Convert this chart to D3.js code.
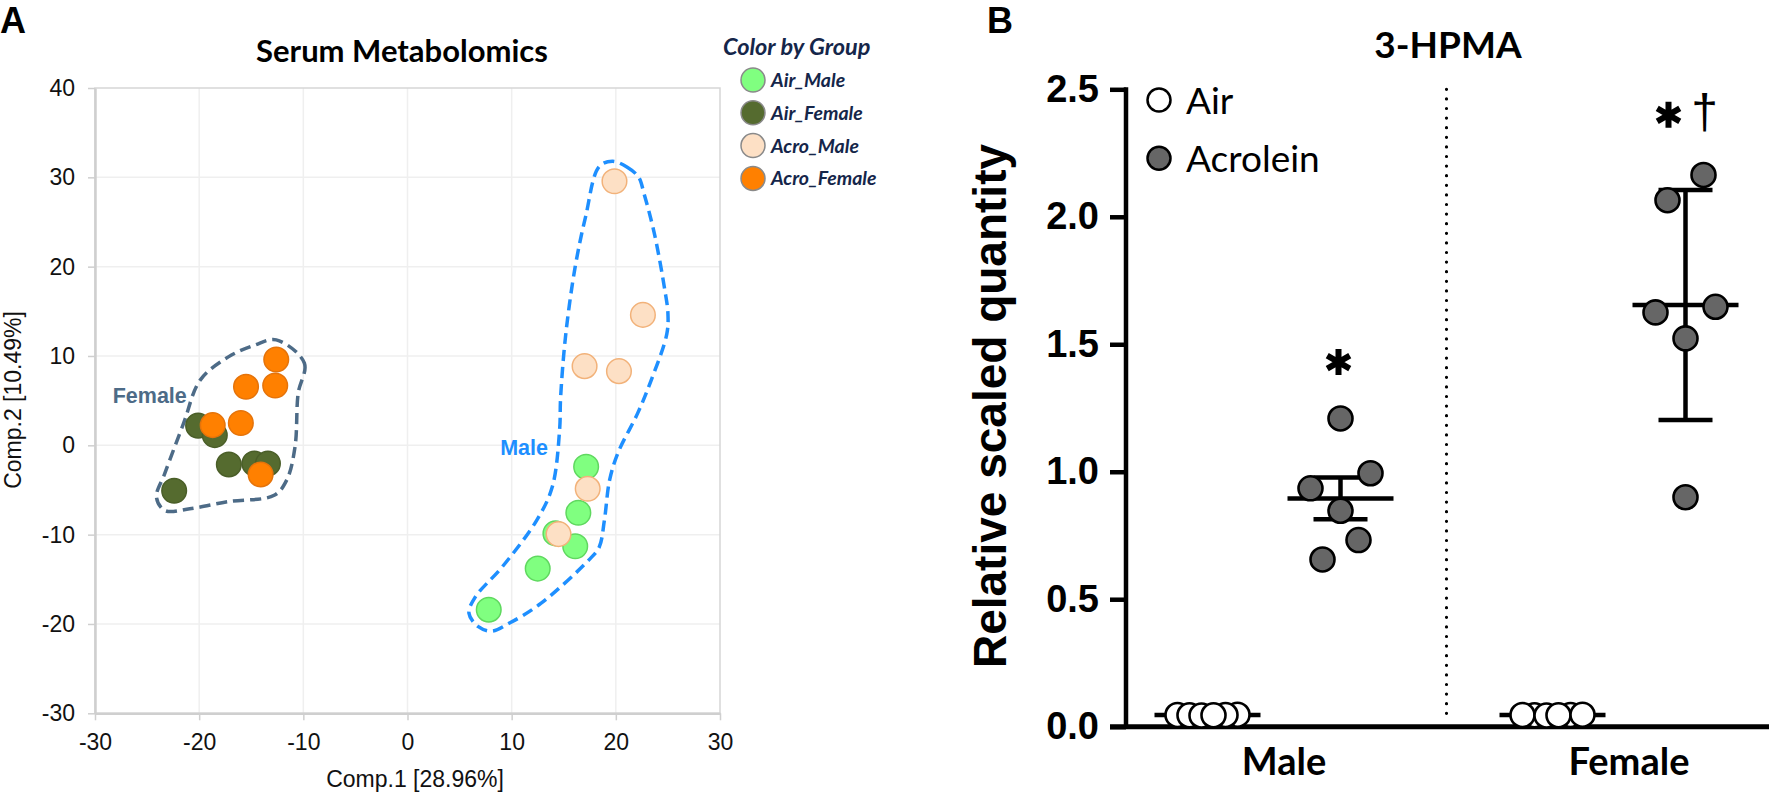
<!DOCTYPE html>
<html><head><meta charset="utf-8">
<script src="https://cdn.jsdelivr.net/npm/d3@7"></script>
<style>body{margin:0;background:#fff} svg{display:block}</style>
</head><body>
<svg id="chart" width="1769" height="794"></svg>
<script>
// ---------------- Panel A data (PCA scores) ----------------
const groupsA = ["Air_Male", "Air_Female", "Acro_Male", "Acro_Female"];
const groupColors = ["#80ff80", "#556b2f", "#fde0c5", "#ff8000"];
const groupStrokes = ["#5fd85f", "#4a5e28", "#f2b27a", "#e5730a"];
const airMaleX = [17.15, 16.4, 14.2, 16.1, 12.5, 7.8];
const airMaleY = [-2.4, -7.55, -9.86, -11.3, -13.8, -18.4];
const airFemaleX = [-20.1, -18.5, -17.15, -14.7, -13.4, -22.4];
const airFemaleY = [2.2, 1.14, -2.14, -2.03, -2.03, -5.09];
const acroMaleX = [19.87, 22.6, 17.0, 20.3, 17.3, 14.5];
const acroMaleY = [29.56, 14.6, 8.86, 8.3, -4.87, -9.94];
const acroFemaleX = [-12.6, -12.7, -15.5, -16.0, -18.7, -14.1];
const acroFemaleY = [9.6, 6.7, 6.55, 2.5, 2.26, -3.26];
const xTicksA = [-30, -20, -10, 0, 10, 20, 30];
const yTicksA = [-30, -20, -10, 0, 10, 20, 30, 40];
// hand-drawn outlines (in data units)
const femaleHullX = [-12.6, -9.9, -10.5, -10.8, -11.6, -12.8, -17.2, -20.9, -23.3, -24.1, -23.3, -21.5, -19.9, -17.2, -14.7];
const femaleHullY = [11.8, 9.2, 5.8, -0.2, -3.9, -5.6, -6.3, -7.1, -7.3, -5.8, -3.15, 2.45, 7.3, 9.9, 11.2];
const maleHullX = [19.67, 21.06, 22.2, 22.7, 23.7, 24.7, 25.0, 24.9, 23.4, 22.1, 20.2, 19.4, 18.9, 18.4, 17.4, 12.8, 9.8, 8.1, 6.8, 5.9, 6.5, 9.1, 12.4, 13.9, 14.6, 14.7, 15.2, 16.1, 17.1, 18.4];
const maleHullY = [31.8, 31.16, 30.0, 28.2, 23.7, 17.4, 14.8, 12.5, 7.3, 3.6, -0.86, -3.9, -8.4, -11.4, -12.85, -17.7, -19.9, -20.8, -20.3, -18.8, -17.0, -13.6, -8.4, -4.65, 1.7, 5.4, 12.5, 20.0, 25.6, 31.2];

// ---------------- Panel B data (3-HPMA) ----------------
const categoriesB = ["Male", "Female"];
const treatments = ["Air", "Acrolein"];
const maleAir = [0.046, 0.045, 0.047, 0.044, 0.046, 0.045];
const maleAcrolein = [1.209, 0.935, 0.994, 0.847, 0.732, 0.656];
const femaleAir = [0.045, 0.046, 0.044, 0.046, 0.045, 0.047];
const femaleAcrolein = [2.164, 2.065, 1.625, 1.647, 1.523, 0.900];
const errMale = [0.004, 0.082];     // Air, Acrolein
const errFemale = [0.004, 0.451];   // Air, Acrolein
const yTicksB = [0, 0.5, 1.0, 1.5, 2.0, 2.5];
const sigMarks = ["*", "*†"];

const svg = d3.select("#chart");
const fontA = "'Liberation Sans', Arial, sans-serif";
const fontC = "Lato, 'Open Sans', sans-serif";

// =============== PANEL A ===============
const xA = d3.scaleLinear().domain([-30, 30]).range([95, 720]);
const yA = d3.scaleLinear().domain([-30, 40]).range([713.3, 88]);
const gA = svg.append("g");

// grid
gA.append("g").selectAll("line.vg").data(xTicksA.slice(1, -1)).join("line")
  .attr("x1", d => xA(d)).attr("x2", d => xA(d)).attr("y1", yA(40)).attr("y2", yA(-30))
  .attr("stroke", "#efefef").attr("stroke-width", 1.5);
gA.append("g").selectAll("line.hg").data(yTicksA.slice(1, -1)).join("line")
  .attr("x1", xA(-30)).attr("x2", xA(30)).attr("y1", d => yA(d)).attr("y2", d => yA(d))
  .attr("stroke", "#efefef").attr("stroke-width", 1.5);
// frame
gA.append("rect").attr("x", xA(-30)).attr("y", yA(40)).attr("width", xA(30) - xA(-30)).attr("height", yA(-30) - yA(40))
  .attr("fill", "none").attr("stroke", "#d6d6d6").attr("stroke-width", 1.5);

const plainFmt = d => String(d);
const axA_x = gA.append("g").attr("transform", `translate(0,${yA(-30)})`)
  .call(d3.axisBottom(xA).tickValues(xTicksA).tickFormat(plainFmt).tickSize(7).tickPadding(13).tickSizeOuter(0));
const axA_y = gA.append("g").attr("transform", `translate(${xA(-30)},0)`)
  .call(d3.axisLeft(yA).tickValues(yTicksA).tickFormat(plainFmt).tickSize(7).tickPadding(13).tickSizeOuter(0));
[axA_x, axA_y].forEach(ax => {
  ax.select(".domain").attr("stroke", "#cfcfcf").attr("stroke-width", 2.5);
  ax.selectAll(".tick line").attr("stroke", "#cfcfcf").attr("stroke-width", 1.5);
  ax.selectAll(".tick text").attr("font-family", fontA).attr("font-size", 23).attr("fill", "#111");
});

// outlines
const hullLine = d3.line().x(d => xA(d[0])).y(d => yA(d[1])).curve(d3.curveCatmullRomClosed.alpha(0.5));
gA.append("path").attr("d", hullLine(femaleHullX.map((x, i) => [x, femaleHullY[i]])))
  .attr("fill", "none").attr("stroke", "#4d6b87").attr("stroke-width", 3.5).attr("stroke-dasharray", "11,6");
gA.append("path").attr("d", hullLine(maleHullX.map((x, i) => [x, maleHullY[i]])))
  .attr("fill", "none").attr("stroke", "#1e8fff").attr("stroke-width", 3.5).attr("stroke-dasharray", "11,6");

// points
const seriesA = [[airMaleX, airMaleY], [airFemaleX, airFemaleY], [acroMaleX, acroMaleY], [acroFemaleX, acroFemaleY]];
seriesA.forEach((s, gi) => {
  gA.append("g").selectAll("circle").data(s[0].map((x, i) => [x, s[1][i]])).join("circle")
    .attr("cx", d => xA(d[0])).attr("cy", d => yA(d[1])).attr("r", 12.3)
    .attr("fill", groupColors[gi]).attr("stroke", groupStrokes[gi]).attr("stroke-width", 1.5);
});

// annotations
gA.append("text").attr("x", xA(-28.3)).attr("y", yA(4.7)).text("Female")
  .attr("font-family", fontA).attr("font-weight", "bold").attr("font-size", 21.5).attr("fill", "#4d6b87");
gA.append("text").attr("x", xA(8.9)).attr("y", yA(-1.1)).text("Male")
  .attr("font-family", fontA).attr("font-weight", "bold").attr("font-size", 21.5).attr("fill", "#1e8fff");

// titles
gA.append("text").attr("x", 402).attr("y", 62).attr("text-anchor", "middle").text("Serum Metabolomics")
  .attr("font-family", fontC).attr("font-weight", "bold").attr("font-size", 31).attr("fill", "#000");
gA.append("text").attr("x", 415).attr("y", 787).attr("text-anchor", "middle").text("Comp.1 [28.96%]")
  .attr("font-family", fontA).attr("font-size", 23).attr("fill", "#111");
gA.append("text").attr("transform", "translate(21,400) rotate(-90)").attr("text-anchor", "middle").text("Comp.2 [10.49%]")
  .attr("font-family", fontA).attr("font-size", 23).attr("fill", "#111");
gA.append("text").attr("x", 0).attr("y", 33).text("A")
  .attr("font-family", fontA).attr("font-weight", "bold").attr("font-size", 36).attr("fill", "#000");

// legend A
const legA = gA.append("g");
legA.append("text").attr("x", 723).attr("y", 55).text("Color by Group")
  .attr("font-family", fontC).attr("font-weight", "bold").attr("font-style", "italic").attr("font-size", 23.5).attr("fill", "#15264a");
groupsA.forEach((g, i) => {
  legA.append("circle").attr("cx", 753).attr("cy", 80 + i * 32.8).attr("r", 12)
    .attr("fill", groupColors[i]).attr("stroke", "#8a8a8a").attr("stroke-width", 1.5);
  legA.append("text").attr("x", 771).attr("y", 80 + i * 32.8 + 7).text(g)
    .attr("font-family", fontC).attr("font-style", "italic").attr("font-weight", "bold").attr("font-size", 19.5).attr("fill", "#15264a");
});

// =============== PANEL B ===============
const yB = d3.scaleLinear().domain([0, 2.5]).range([726.7, 89.3]);
const xB = d3.scalePoint().domain(categoriesB).range([1274, 1619]);
const xSub = d3.scalePoint().domain(treatments).range([-66.5, 66.5]);
const gB = svg.append("g");

// divider
gB.append("line").attr("x1", (xB("Male") + xB("Female")) / 2).attr("x2", (xB("Male") + xB("Female")) / 2)
  .attr("y1", yB(2.5)).attr("y2", yB(0) - 5)
  .attr("stroke", "#000").attr("stroke-width", 3.2).attr("stroke-linecap", "round").attr("stroke-dasharray", "0,9.6");

// axes
const axB = gB.append("g").attr("transform", "translate(1126,0)")
  .call(d3.axisLeft(yB).tickValues(yTicksB).tickFormat(d3.format(".1f")).tickSize(16).tickPadding(11).tickSizeOuter(0));
axB.select(".domain").remove();
axB.selectAll(".tick line").attr("stroke", "#000").attr("stroke-width", 4.5);
axB.selectAll(".tick text").attr("font-family", fontA).attr("font-weight", "bold").attr("font-size", 38).attr("fill", "#000");
gB.append("line").attr("x1", 1126).attr("x2", 1126).attr("y1", yB(2.5) - 2).attr("y2", yB(0))
  .attr("stroke", "#000").attr("stroke-width", 4.5);
gB.append("line").attr("x1", 1110).attr("x2", 1769).attr("y1", yB(0)).attr("y2", yB(0))
  .attr("stroke", "#000").attr("stroke-width", 5);

// category labels
gB.selectAll("text.cat").data(categoriesB).join("text")
  .attr("x", d => xB(d) + 10).attr("y", 775).attr("text-anchor", "middle").text(d => d)
  .attr("font-family", fontC).attr("font-weight", "bold").attr("font-size", 38).attr("fill", "#000");

// axis title
gB.append("text").attr("transform", "translate(1006,406) rotate(-90)").attr("text-anchor", "middle")
  .text("Relative scaled quantity")
  .attr("font-family", fontA).attr("font-weight", "bold").attr("font-size", 46).attr("fill", "#000");
gB.append("text").attr("x", 1448).attr("y", 58).attr("text-anchor", "middle").text("3-HPMA")
  .attr("font-family", fontC).attr("font-weight", "bold").attr("font-size", 37).attr("fill", "#000");
gB.append("text").attr("x", 987).attr("y", 33).text("B")
  .attr("font-family", fontA).attr("font-weight", "bold").attr("font-size", 36).attr("fill", "#000");

// swarm offsets (rows of nearby points spread symmetrically)
function swarmOffsets(values, r, maxSpread) {
  const idx = values.map((v, i) => i).sort((a, b) => values[b] - values[a]);
  const offsets = values.map(() => 0);
  const rows = []; let cur = [];
  idx.forEach(i => {
    if (cur.length && Math.abs(yB(values[i]) - yB(values[cur[cur.length - 1]])) >= 2 * r + 3.5) { rows.push(cur); cur = []; }
    cur.push(i);
  });
  if (cur.length) rows.push(cur);
  rows.forEach(row => {
    const n = row.length; if (n === 1) return;
    const step = Math.min(36, maxSpread / (n - 1));
    const slots = d3.range(n).map(k => (k - (n - 1) / 2) * step);
    const order = []; let lo = 0, hi = n - 1;
    while (lo <= hi) { order.push(slots[hi--]); if (lo <= hi) order.push(slots[lo++]); }
    row.forEach((i, k) => offsets[i] = order[k]);
  });
  return offsets;
}

const groupsB = [
  { cat: "Male", tr: "Air", vals: maleAir, err: errMale[0] },
  { cat: "Male", tr: "Acrolein", vals: maleAcrolein, err: errMale[1] },
  { cat: "Female", tr: "Air", vals: femaleAir, err: errFemale[0] },
  { cat: "Female", tr: "Acrolein", vals: femaleAcrolein, err: errFemale[1] }
];
const rB = 12;
groupsB.forEach(g => {
  const cx = xB(g.cat) + xSub(g.tr);
  const m = d3.mean(g.vals);
  const eg = gB.append("g").attr("stroke", "#000").attr("stroke-width", 4.5);
  eg.append("line").attr("x1", cx - 53).attr("x2", cx + 53).attr("y1", yB(m)).attr("y2", yB(m));
  eg.append("line").attr("x1", cx).attr("x2", cx).attr("y1", yB(m - g.err)).attr("y2", yB(m + g.err));
  [m - g.err, m + g.err].forEach(v => eg.append("line").attr("x1", cx - 27).attr("x2", cx + 27).attr("y1", yB(v)).attr("y2", yB(v)));
});
groupsB.forEach(g => {
  const cx = xB(g.cat) + xSub(g.tr);
  const offs = swarmOffsets(g.vals, rB, 60);
  gB.append("g").selectAll("circle").data(g.vals).join("circle")
    .attr("cx", (d, i) => cx + offs[i]).attr("cy", d => yB(d)).attr("r", rB)
    .attr("fill", g.tr === "Air" ? "#fff" : "#666").attr("stroke", "#000").attr("stroke-width", 2.6);
});

// significance marks
function asterisk(x, y) {
  const r = 13;
  const p = d3.path();
  for (let k = 0; k < 3; k++) {
    const a = Math.PI / 2 + k * Math.PI / 3;
    p.moveTo(x + r * Math.cos(a), y + r * Math.sin(a));
    p.lineTo(x - r * Math.cos(a), y - r * Math.sin(a));
  }
  gB.append("path").attr("d", p.toString()).attr("stroke", "#000").attr("stroke-width", 6).attr("fill", "none");
}
asterisk(xB("Male") + xSub("Acrolein") - 2, yB(1.43));
asterisk(xB("Female") + xSub("Acrolein") - 17, yB(2.40));
gB.append("text").attr("x", xB("Female") + xSub("Acrolein") + 19).attr("y", yB(2.40) + 13).attr("text-anchor", "middle")
  .text(sigMarks[1].slice(1)).attr("font-family", fontA).attr("font-size", 48).attr("fill", "#000");

// legend B
const legB = gB.append("g");
treatments.forEach((t, i) => {
  legB.append("circle").attr("cx", 1159).attr("cy", 100 + i * 58.3).attr("r", 11.5)
    .attr("fill", t === "Air" ? "#fff" : "#666").attr("stroke", "#000").attr("stroke-width", 2.5);
  legB.append("text").attr("x", 1186).attr("y", 100 + i * 58.3 + 14).text(t)
    .attr("font-family", fontC).attr("font-size", 37).attr("fill", "#000");
});
</script>
</body></html>
